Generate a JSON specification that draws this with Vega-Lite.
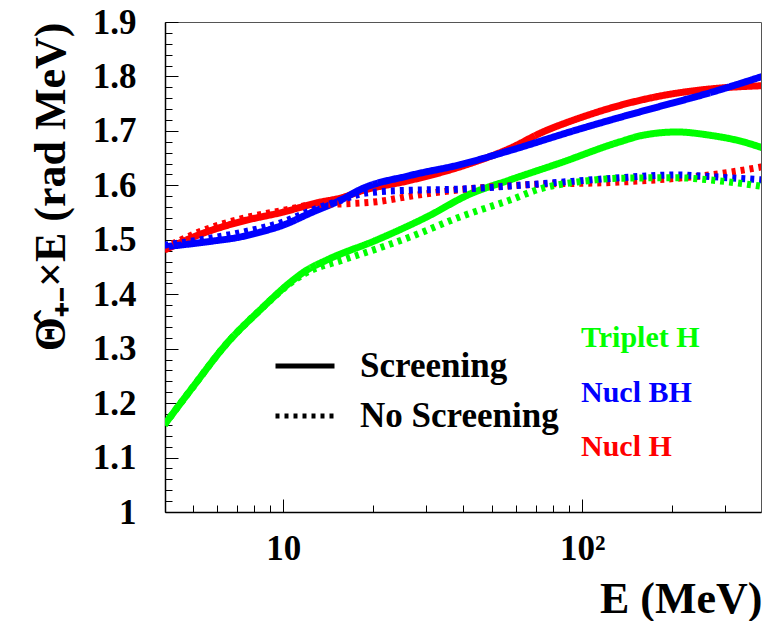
{
  "$schema": "https://vega.github.io/schema/vega-lite/v6.json",
  "width": 596,
  "height": 490,
  "autosize": {"type": "none"},
  "padding": {"left": 165, "top": 22, "right": 2, "bottom": 109},
  "background": "white",
  "config": {
    "view": {"stroke": "#555555", "strokeWidth": 1},
    "font": "Liberation Serif",
    "axis": {"labelFont": "Liberation Serif", "titleFont": "Liberation Serif"},
    "legend": {"labelFont": "Liberation Serif", "titleFont": "Liberation Serif"}
  },
  "data": {"values": [
    {"series": "Nucl H", "screening": "Screening", "E": 4, "v": 1.481},
    {"series": "Nucl H", "screening": "Screening", "E": 5.27, "v": 1.51},
    {"series": "Nucl H", "screening": "Screening", "E": 7.16, "v": 1.533},
    {"series": "Nucl H", "screening": "Screening", "E": 10, "v": 1.551},
    {"series": "Nucl H", "screening": "Screening", "E": 13, "v": 1.568},
    {"series": "Nucl H", "screening": "Screening", "E": 15.84, "v": 1.578},
    {"series": "Nucl H", "screening": "Screening", "E": 18.05, "v": 1.589},
    {"series": "Nucl H", "screening": "Screening", "E": 26.5, "v": 1.609},
    {"series": "Nucl H", "screening": "Screening", "E": 39, "v": 1.634},
    {"series": "Nucl H", "screening": "Screening", "E": 57.3, "v": 1.668},
    {"series": "Nucl H", "screening": "Screening", "E": 73.8, "v": 1.698},
    {"series": "Nucl H", "screening": "Screening", "E": 96, "v": 1.722},
    {"series": "Nucl H", "screening": "Screening", "E": 134, "v": 1.747},
    {"series": "Nucl H", "screening": "Screening", "E": 182, "v": 1.764},
    {"series": "Nucl H", "screening": "Screening", "E": 267, "v": 1.777},
    {"series": "Nucl H", "screening": "Screening", "E": 400, "v": 1.783},
    {"series": "Nucl H", "screening": "No Screening", "E": 4, "v": 1.485},
    {"series": "Nucl H", "screening": "No Screening", "E": 5.27, "v": 1.515},
    {"series": "Nucl H", "screening": "No Screening", "E": 7.16, "v": 1.538},
    {"series": "Nucl H", "screening": "No Screening", "E": 10, "v": 1.554},
    {"series": "Nucl H", "screening": "No Screening", "E": 13, "v": 1.565},
    {"series": "Nucl H", "screening": "No Screening", "E": 15.84, "v": 1.566},
    {"series": "Nucl H", "screening": "No Screening", "E": 20.6, "v": 1.57},
    {"series": "Nucl H", "screening": "No Screening", "E": 26.5, "v": 1.58},
    {"series": "Nucl H", "screening": "No Screening", "E": 39, "v": 1.592},
    {"series": "Nucl H", "screening": "No Screening", "E": 65, "v": 1.601},
    {"series": "Nucl H", "screening": "No Screening", "E": 134, "v": 1.606},
    {"series": "Nucl H", "screening": "No Screening", "E": 207, "v": 1.613},
    {"series": "Nucl H", "screening": "No Screening", "E": 267, "v": 1.619},
    {"series": "Nucl H", "screening": "No Screening", "E": 345, "v": 1.628},
    {"series": "Nucl H", "screening": "No Screening", "E": 400, "v": 1.634},
    {"series": "Nucl BH", "screening": "Screening", "E": 4, "v": 1.487},
    {"series": "Nucl BH", "screening": "Screening", "E": 5.69, "v": 1.497},
    {"series": "Nucl BH", "screening": "Screening", "E": 7.16, "v": 1.505},
    {"series": "Nucl BH", "screening": "Screening", "E": 8.36, "v": 1.514},
    {"series": "Nucl BH", "screening": "Screening", "E": 10, "v": 1.527},
    {"series": "Nucl BH", "screening": "Screening", "E": 12.3, "v": 1.549},
    {"series": "Nucl BH", "screening": "Screening", "E": 15.84, "v": 1.575},
    {"series": "Nucl BH", "screening": "Screening", "E": 18.05, "v": 1.592},
    {"series": "Nucl BH", "screening": "Screening", "E": 26.5, "v": 1.618},
    {"series": "Nucl BH", "screening": "Screening", "E": 39, "v": 1.638},
    {"series": "Nucl BH", "screening": "Screening", "E": 57.3, "v": 1.664},
    {"series": "Nucl BH", "screening": "Screening", "E": 96, "v": 1.702},
    {"series": "Nucl BH", "screening": "Screening", "E": 134, "v": 1.725},
    {"series": "Nucl BH", "screening": "Screening", "E": 182, "v": 1.745},
    {"series": "Nucl BH", "screening": "Screening", "E": 267, "v": 1.77},
    {"series": "Nucl BH", "screening": "Screening", "E": 400, "v": 1.8},
    {"series": "Nucl BH", "screening": "No Screening", "E": 4, "v": 1.49},
    {"series": "Nucl BH", "screening": "No Screening", "E": 5.69, "v": 1.503},
    {"series": "Nucl BH", "screening": "No Screening", "E": 7.16, "v": 1.513},
    {"series": "Nucl BH", "screening": "No Screening", "E": 10, "v": 1.533},
    {"series": "Nucl BH", "screening": "No Screening", "E": 12.3, "v": 1.553},
    {"series": "Nucl BH", "screening": "No Screening", "E": 15.84, "v": 1.574},
    {"series": "Nucl BH", "screening": "No Screening", "E": 18.05, "v": 1.584},
    {"series": "Nucl BH", "screening": "No Screening", "E": 20.6, "v": 1.588},
    {"series": "Nucl BH", "screening": "No Screening", "E": 26.5, "v": 1.591},
    {"series": "Nucl BH", "screening": "No Screening", "E": 39, "v": 1.593},
    {"series": "Nucl BH", "screening": "No Screening", "E": 65, "v": 1.601},
    {"series": "Nucl BH", "screening": "No Screening", "E": 96, "v": 1.608},
    {"series": "Nucl BH", "screening": "No Screening", "E": 134, "v": 1.614},
    {"series": "Nucl BH", "screening": "No Screening", "E": 207, "v": 1.619},
    {"series": "Nucl BH", "screening": "No Screening", "E": 267, "v": 1.616},
    {"series": "Nucl BH", "screening": "No Screening", "E": 400, "v": 1.61},
    {"series": "Triplet H", "screening": "Screening", "E": 4, "v": 1.16},
    {"series": "Triplet H", "screening": "Screening", "E": 4.99, "v": 1.23},
    {"series": "Triplet H", "screening": "Screening", "E": 6.48, "v": 1.31},
    {"series": "Triplet H", "screening": "Screening", "E": 8.36, "v": 1.371},
    {"series": "Triplet H", "screening": "Screening", "E": 10.78, "v": 1.426},
    {"series": "Triplet H", "screening": "Screening", "E": 11.8, "v": 1.442},
    {"series": "Triplet H", "screening": "Screening", "E": 14, "v": 1.463},
    {"series": "Triplet H", "screening": "Screening", "E": 20.6, "v": 1.5},
    {"series": "Triplet H", "screening": "Screening", "E": 30.2, "v": 1.542},
    {"series": "Triplet H", "screening": "Screening", "E": 42.1, "v": 1.584},
    {"series": "Triplet H", "screening": "Screening", "E": 57.3, "v": 1.61},
    {"series": "Triplet H", "screening": "Screening", "E": 84.2, "v": 1.641},
    {"series": "Triplet H", "screening": "Screening", "E": 133.7, "v": 1.68},
    {"series": "Triplet H", "screening": "Screening", "E": 159.6, "v": 1.692},
    {"series": "Triplet H", "screening": "Screening", "E": 207, "v": 1.698},
    {"series": "Triplet H", "screening": "Screening", "E": 267, "v": 1.692},
    {"series": "Triplet H", "screening": "Screening", "E": 345, "v": 1.68},
    {"series": "Triplet H", "screening": "Screening", "E": 400, "v": 1.669},
    {"series": "Triplet H", "screening": "No Screening", "E": 4, "v": 1.16},
    {"series": "Triplet H", "screening": "No Screening", "E": 4.99, "v": 1.23},
    {"series": "Triplet H", "screening": "No Screening", "E": 6.48, "v": 1.31},
    {"series": "Triplet H", "screening": "No Screening", "E": 8.36, "v": 1.371},
    {"series": "Triplet H", "screening": "No Screening", "E": 10.78, "v": 1.424},
    {"series": "Triplet H", "screening": "No Screening", "E": 11.8, "v": 1.438},
    {"series": "Triplet H", "screening": "No Screening", "E": 15.84, "v": 1.463},
    {"series": "Triplet H", "screening": "No Screening", "E": 19.95, "v": 1.481},
    {"series": "Triplet H", "screening": "No Screening", "E": 26.5, "v": 1.505},
    {"series": "Triplet H", "screening": "No Screening", "E": 39, "v": 1.542},
    {"series": "Triplet H", "screening": "No Screening", "E": 57.3, "v": 1.573},
    {"series": "Triplet H", "screening": "No Screening", "E": 73.8, "v": 1.595},
    {"series": "Triplet H", "screening": "No Screening", "E": 96, "v": 1.606},
    {"series": "Triplet H", "screening": "No Screening", "E": 134, "v": 1.613},
    {"series": "Triplet H", "screening": "No Screening", "E": 207, "v": 1.614},
    {"series": "Triplet H", "screening": "No Screening", "E": 267, "v": 1.61},
    {"series": "Triplet H", "screening": "No Screening", "E": 345, "v": 1.603},
    {"series": "Triplet H", "screening": "No Screening", "E": 400, "v": 1.598}
  ]},
  "encoding": {
    "color": {
      "field": "series", "type": "nominal",
      "scale": {"domain": ["Triplet H", "Nucl BH", "Nucl H"], "range": ["#00ff00", "#0000ff", "#ff0000"]},
      "legend": {
        "orient": "none", "legendX": 386, "legendY": 301, "direction": "vertical", "title": null,
        "padding": 0, "symbolType": "circle", "symbolOpacity": 0, "symbolSize": 1, "labelOffset": 0,
        "rowPadding": 24.5, "labelLimit": 400,
        "labelFont": "Liberation Serif", "labelFontWeight": "bold", "labelFontSize": 30,
        "encoding": {
          "labels": {
            "fill": {
              "condition": [
                {"test": "datum.value == 'Triplet H'", "value": "#00ff00"},
                {"test": "datum.value == 'Nucl BH'", "value": "#0000ff"}
              ],
              "value": "#ff0000"
            }
          }
        }
      }
    },
    "strokeDash": {
      "field": "screening", "type": "nominal",
      "scale": {"domain": ["Screening", "No Screening"], "range": [[1, 0], [4, 5]]},
      "legend": {
        "orient": "none", "legendX": 108, "legendY": 312, "direction": "vertical", "title": null,
        "padding": 0, "symbolType": "stroke", "symbolSize": 3481, "symbolStrokeWidth": 5, "symbolStrokeColor": "black",
        "labelOffset": 23, "rowPadding": 0, "labelLimit": 400,
        "labelFont": "Liberation Serif", "labelFontWeight": "bold", "labelFontSize": 35, "labelColor": "black"
      }
    }
  },
  "layer": [
    {
      "transform": [{"filter": "datum.screening == 'Screening'"}],
      "mark": {"type": "line", "strokeWidth": 7, "interpolate": "monotone", "clip": true},
      "encoding": {
        "x": {
          "field": "E", "type": "quantitative",
          "scale": {"type": "log", "domain": [4.02, 396], "nice": false},
          "axis": {
            "orient": "bottom",
            "values": [10, 100],
            "labelExpr": "datum.value == 10 ? '10' : '10²'",
            "ticks": true, "tickSize": -13, "tickColor": "black", "tickWidth": 1,
            "labelPadding": 32,
            "labelBaseline": "top",
            "labelFont": "Liberation Serif", "labelFontWeight": "bold", "labelFontSize": 35, "labelColor": "black",
            "labelFlush": false, "labelOverlap": false, "labelBound": false,
            "domainColor": "black", "domainWidth": 1.5, "grid": false,
            "title": "E (MeV)",
            "titleFont": "Liberation Serif", "titleFontWeight": "bold", "titleFontSize": 44, "titleColor": "black",
            "titleAlign": "right", "titleBaseline": "alphabetic", "titleX": 597, "titleY": 100, "titleAnchor": "end"
          }
        },
        "y": {
          "field": "v", "type": "quantitative",
          "scale": {"domain": [1, 1.9], "nice": false, "zero": false},
          "axis": {
            "orient": "left",
            "values": [1, 1.1, 1.2, 1.3, 1.4, 1.5, 1.6, 1.7, 1.8, 1.9],
            "labelExpr": "'' + round(datum.value*10)/10",
            "ticks": true, "tickSize": -13, "tickColor": "black", "tickWidth": 1,
            "labelPadding": 42,
            "labelFont": "Liberation Serif", "labelFontWeight": "bold", "labelFontSize": 35, "labelColor": "black",
            "labelFlush": false, "labelOverlap": false, "labelBound": false,
            "domainColor": "black", "domainWidth": 1.5, "grid": false,
            "title": "Θ̂₊₋×E (rad MeV)",
            "titleFont": "Liberation Serif", "titleFontWeight": "bold", "titleFontSize": 44, "titleColor": "black",
            "titleAngle": 270, "titleAlign": "right", "titleBaseline": "middle", "titleX": -114, "titleY": 0
          }
        }
      }
    },
    {
      "transform": [{"filter": "datum.screening == 'No Screening'"}],
      "mark": {"type": "line", "strokeWidth": 7, "interpolate": "monotone", "clip": true},
      "encoding": {
        "x": {
          "field": "E", "type": "quantitative",
          "axis": {
            "orient": "bottom",
            "values": [5, 6, 7, 8, 9, 20, 30, 40, 50, 60, 70, 80, 90, 200, 300],
            "labels": false, "ticks": true, "tickSize": -7, "tickColor": "black", "tickWidth": 1,
            "domain": false, "grid": false, "title": null
          }
        },
        "y": {
          "field": "v", "type": "quantitative",
          "axis": {
            "orient": "left",
            "values": [1.02, 1.04, 1.06, 1.08, 1.12, 1.14, 1.16, 1.18, 1.22, 1.24, 1.26, 1.28, 1.32, 1.34, 1.36, 1.38, 1.42, 1.44, 1.46, 1.48, 1.52, 1.54, 1.56, 1.58, 1.62, 1.64, 1.66, 1.68, 1.72, 1.74, 1.76, 1.78, 1.82, 1.84, 1.86, 1.88],
            "labels": false, "ticks": true, "tickSize": -7, "tickColor": "black", "tickWidth": 1,
            "domain": false, "grid": false, "title": null
          }
        }
      }
    }
  ],
  "resolve": {"axis": {"x": "independent", "y": "independent"}}
}
